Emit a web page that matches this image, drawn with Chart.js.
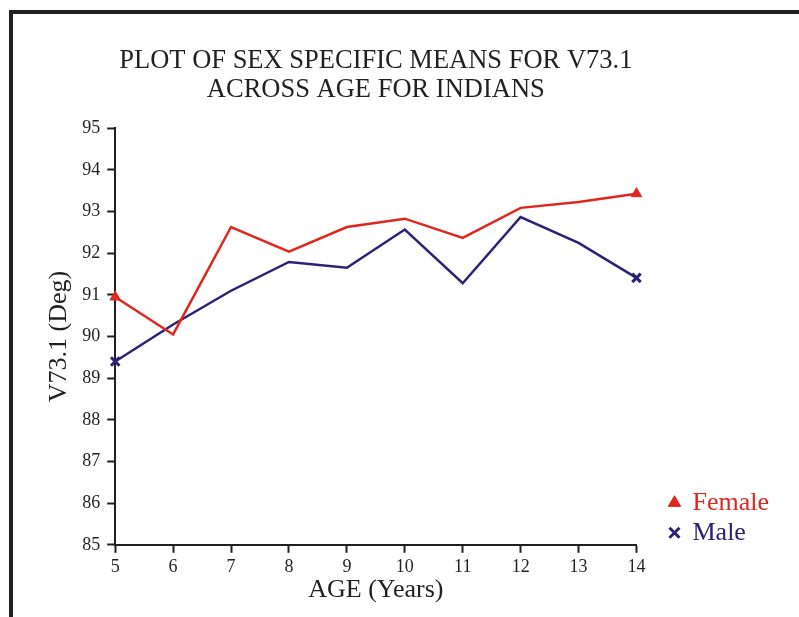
<!DOCTYPE html>
<html>
<head>
<meta charset="utf-8">
<script src="https://cdn.jsdelivr.net/npm/chart.js@4/dist/chart.umd.min.js"></script>
<style>
  html, body { margin: 0; padding: 0; background: #fff; overflow: hidden; }
  #wrap { position: absolute; left: 0; top: 0; width: 799px; height: 617px; }
  #frame { position: absolute; left: 9px; top: 10px; width: 800px; height: 620px;
           border-top: 4px solid #231f20; border-left: 4px solid #231f20; pointer-events: none; }
</style>
</head>
<body>
<div id="wrap"><canvas id="lineChart" width="799" height="617"></canvas></div>
<div id="frame"></div>
<script>
    // ages on the x axis
    const ages = ['5', '6', '7', '8', '9', '10', '11', '12', '13', '14'];
    // sex specific means of V73.1 (Deg)
    const femaleMeans = [90.95, 90.05, 92.63, 92.04, 92.63, 92.83, 92.37, 93.09, 93.23, 93.43];
    const maleMeans = [89.40, 90.29, 91.10, 91.79, 91.65, 92.57, 91.28, 92.87, 92.25, 91.41];
    const yTicks = [85, 86, 87, 88, 89, 90, 91, 92, 93, 94, 95];

    const serif = 'Liberation Serif, Times New Roman, serif';
    const ink = '#231f20';
    const red = '#e1251f';
    const navy = '#2a2277';

    // only the first and last points carry a marker
    const endsOnly = (r) => ages.map((a, i) => (i === 0 || i === ages.length - 1) ? r : 0);

    // nudge the legend a few px lower, it sits almost on the x axis in the original
    const legendNudge = {
      id: 'legendNudge',
      afterLayout(chart) {
        chart.legend.top += 5;
        chart.legend.bottom += 5;
      }
    };

    const ctx = document.getElementById('lineChart');

    new Chart(ctx, {
      type: 'line',
      data: {
        labels: ages,
        datasets: [
          {
            label: 'Female',
            data: femaleMeans,
            borderColor: red,
            backgroundColor: red,
            borderWidth: 2.5,
            pointStyle: 'triangle',
            pointRadius: endsOnly(6),
            pointBorderWidth: 1,
            tension: 0,
            clip: false
          },
          {
            label: 'Male',
            data: maleMeans,
            borderColor: navy,
            backgroundColor: navy,
            borderWidth: 2.5,
            pointStyle: 'crossRot',
            pointRadius: endsOnly(6),
            pointBorderWidth: 3,
            tension: 0,
            clip: false
          }
        ]
      },
      options: {
        responsive: false,
        animation: false,
        layout: { padding: { left: 44, right: 20, top: 46, bottom: 19 } },
        plugins: {
          title: {
            display: true,
            fullSize: false,
            text: ['PLOT OF SEX SPECIFIC MEANS FOR V73.1', 'ACROSS AGE FOR INDIANS'],
            color: ink,
            font: { family: serif, size: 26.5, weight: 'normal', lineHeight: 1.1 },
            padding: { top: 0, bottom: 24 }
          },
          legend: {
            position: 'right',
            align: 'end',
            fullSize: false,
            labels: {
              usePointStyle: true,
              boxWidth: 10,
              boxHeight: 10,
              padding: 4,
              font: { family: serif, size: 26, lineHeight: 1 },
              generateLabels: (chart) => chart.data.datasets.map((ds, i) => ({
                text: ds.label,
                fillStyle: ds.backgroundColor,
                strokeStyle: ds.borderColor,
                fontColor: ds.borderColor,
                lineWidth: i === 1 ? 3 : 1,
                pointStyle: ds.pointStyle,
                datasetIndex: i
              }))
            }
          },
          tooltip: { enabled: false }
        },
        scales: {
          x: {
            grid: { drawOnChartArea: false, tickLength: 8, color: ink, tickWidth: 2 },
            border: { color: ink, width: 2 },
            ticks: { color: ink, font: { family: serif, size: 18 }, padding: 4, maxRotation: 0 },
            title: { display: true, text: 'AGE (Years)', color: ink,
                     font: { family: serif, size: 26, lineHeight: 0.6 }, padding: { top: 0, bottom: 0 } }
          },
          y: {
            min: 85,
            max: 95,
            afterBuildTicks: (axis) => { axis.ticks = yTicks.map(v => ({ value: v })); },
            grid: { drawOnChartArea: false, tickLength: 8, color: ink, tickWidth: 2 },
            border: { color: ink, width: 2 },
            ticks: { color: ink, font: { family: serif, size: 18 }, padding: 7 },
            title: { display: true, text: 'V73.1 (Deg)', color: ink,
                     font: { family: serif, size: 26 }, padding: { top: 0, bottom: 0 } }
          },
          // empty spacer between the plot and the legend
          gap: {
            position: 'right',
            display: true,
            grid: { display: false },
            border: { display: false },
            ticks: { display: false },
            afterFit: (axis) => { axis.width = 29; }
          }
        }
      },
      plugins: [legendNudge]
    });
</script>
</body>
</html>
